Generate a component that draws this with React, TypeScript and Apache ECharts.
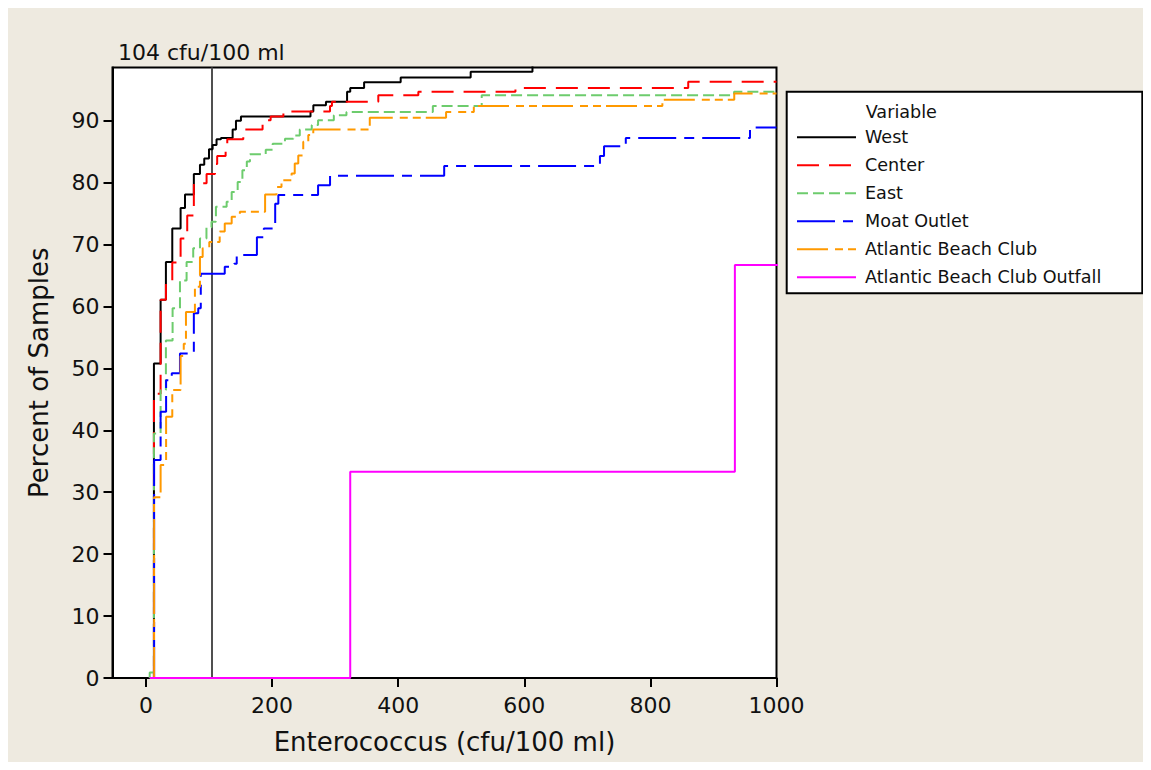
import React, { useEffect, useRef } from "react";
import * as echarts from "echarts";

// ---- data ----
const X_MIN = -53;
const X_MAX = 1000;
const Y_MAX = 98.6;
const X_TICKS = [0, 200, 400, 600, 800, 1000];
const Y_TICKS = [0, 10, 20, 30, 40, 50, 60, 70, 80, 90];
const REF_X = 104;
const REF_LABEL = "104 cfu/100 ml";
const X_TITLE = "Enterococcus (cfu/100 ml)";
const Y_TITLE = "Percent of Samples";
const LEGEND_TITLE = "Variable";

const SERIES_NAMES = [
  "West",
  "Center",
  "East",
  "Moat Outlet",
  "Atlantic Beach Club",
  "Atlantic Beach Club Outfall",
];

const WEST: number[][] = [
  [12.7, 0], [12.7, 50.8], [23.3, 61.1], [31.7, 67.2], [41.8, 72.6], [55, 75.9],
  [62, 78.1], [76, 81.4], [85.7, 82.9], [92.5, 83.9], [100, 85.4], [105.8, 86.1],
  [112, 87.0], [119, 87.2], [137.5, 88.6], [142.8, 90.0], [150.7, 90.7],
  [261, 91.5], [265.5, 92.5], [285.5, 93.05], [319, 94.7], [324, 95.3],
  [346, 96.2], [404, 97.0], [515, 97.9], [613, 100], [1000, 100],
];

const CENTER: number[][] = [
  [12.7, 0], [12.7, 45.9], [23.3, 61.1], [31.7, 64.2], [41.8, 67.1], [55, 71.0],
  [65.5, 74.7], [76, 79.9], [96.2, 81.4], [109.5, 83.0], [113, 84.3],
  [126.4, 86.2], [129, 87.0], [154.4, 88.6], [185, 90.1], [197.8, 90.7],
  [218, 91.5], [291.9, 92.4], [295, 93.05], [368.5, 94.1], [432, 94.7],
  [586, 95.3], [860, 96.3], [1000, 96.3],
];

const EAST: number[][] = [
  [6, 0], [6, 0.9], [12.7, 39.5], [23.3, 46.5], [31.7, 54.5], [42.3, 59.7],
  [54, 64.2], [64.5, 67.2], [75, 69.4], [85.7, 71.0], [96, 72.8], [104, 73.7],
  [111, 76.1], [128, 76.9], [136, 78.5], [145.5, 80.1], [153, 82.0],
  [160, 83.4], [165, 84.6], [190, 85.3], [201, 86.3], [220.5, 87.1],
  [233.7, 87.6], [244, 88.6], [263, 89.3], [273, 90.1], [298, 90.9],
  [318, 91.4], [455, 92.4], [532.5, 94.1], [932.7, 94.7], [1000, 94.7],
];

const MOAT: number[][] = [
  [13, 0], [13, 35.2], [23.3, 43.0], [32, 48.1], [41, 49.2], [54, 52.4],
  [76, 58.9], [83, 59.7], [87, 65.3], [125, 66.4], [140, 66.9], [144, 68.3],
  [176, 71.2], [187, 72.6], [205, 76.6], [210, 78.0], [273, 79.6],
  [292, 81.1], [473, 82.7], [720, 84.3], [726.5, 85.9], [761, 87.2],
  [958, 88.9], [1000, 88.9],
];

const ABC: number[][] = [
  [13, 0], [13, 29.2], [23.3, 34.4], [32, 42.2], [41.8, 46.5], [55, 52.0],
  [60, 54.0], [63.5, 59.1], [77.7, 63.2], [85.7, 68.0], [90, 69.4],
  [100.5, 70.4], [117, 72.1], [125, 73.4], [136, 74.5], [149, 75.3],
  [189, 78.1], [207, 79.3], [215, 80.4], [231, 81.5], [236, 83.1],
  [241.6, 84.4], [249.5, 86.6], [257.5, 87.7], [265.4, 88.6], [355, 90.5],
  [476, 91.4], [520, 92.4], [819, 93.4], [933, 94.4], [1000, 94.4],
];

const OUTFALL: number[][] = [
  [6, 0], [324, 33.3], [934, 66.7], [1100, 100],
];

const SERIES_DATA = [WEST, CENTER, EAST, MOAT, ABC, OUTFALL];
const COLORS = ["#000000", "#FF0000", "#6DCC6D", "#0000FF", "#FF9900", "#FF00FF"];
const DASHES: any[] = [
  "solid",
  [22, 10],
  [11, 5],
  [38, 8, 10, 8],
  [31, 7, 8, 5, 8, 5],
  "solid",
];

const FONT = "DejaVu Sans";

export default function App() {
  const ref = useRef<HTMLDivElement>(null);

  useEffect(() => {
    if (!ref.current) return;
    const chart = echarts.init(ref.current, null, { renderer: "svg" });

    const series: any[] = SERIES_NAMES.map((name, i) => {
      const s: any = {
        name,
        type: "line",
        step: "end",
        data: SERIES_DATA[i],
        showSymbol: false,
        symbol: "none",
        silent: true,
        clip: true,
        z: 3 + i,
        color: COLORS[i],
        lineStyle: { color: COLORS[i], width: 2, type: DASHES[i] },
        itemStyle: { color: COLORS[i] },
        emphasis: { disabled: true },
      };
      if (i === 0) {
        s.markLine = {
          silent: true,
          symbol: ["none", "none"],
          label: { show: false },
          lineStyle: { color: "#505050", width: 2, type: "solid" },
          data: [{ xAxis: REF_X }],
          z: 2,
        };
      }
      return s;
    });

    const option: any = {
      animation: false,
      backgroundColor: "#EEEAE0",
      textStyle: { fontFamily: FONT },
      grid: {
        left: 104.5,
        top: 59.5,
        right: 366.5,
        bottom: 84,
        show: true,
        backgroundColor: "#FFFFFF",
        borderColor: "#000000",
        borderWidth: 2,
        containLabel: false,
      },
      xAxis: {
        type: "value",
        min: X_MIN,
        max: X_MAX,
        name: X_TITLE,
        nameLocation: "middle",
        nameGap: 51,
        nameTextStyle: { fontFamily: FONT, fontSize: 26, color: "#111" },
        axisLine: { show: true, onZero: false, lineStyle: { color: "#000", width: 2 } },
        axisTick: {
          show: true,
          inside: false,
          length: 9,
          customValues: X_TICKS,
          lineStyle: { color: "#000", width: 2 },
        },
        axisLabel: {
          show: true,
          customValues: X_TICKS,
          formatter: (v: number) => String(v),
          margin: 16,
          fontFamily: FONT,
          fontSize: 22,
          color: "#111",
        },
        splitLine: { show: false },
      },
      yAxis: {
        type: "value",
        min: 0,
        max: Y_MAX,
        name: Y_TITLE,
        nameLocation: "middle",
        nameGap: 61,
        nameTextStyle: { fontFamily: FONT, fontSize: 26, color: "#111" },
        axisLine: { show: true, onZero: false, lineStyle: { color: "#000", width: 2 } },
        axisTick: {
          show: true,
          inside: false,
          length: 9,
          customValues: Y_TICKS,
          lineStyle: { color: "#000", width: 2 },
        },
        axisLabel: {
          show: true,
          customValues: Y_TICKS,
          formatter: (v: number) => String(v),
          margin: 13,
          fontFamily: FONT,
          fontSize: 22,
          color: "#111",
        },
        splitLine: { show: false },
      },
      legend: {
        show: true,
        orient: "vertical",
        left: 788,
        top: 119.3,
        padding: 0,
        itemGap: 8,
        itemWidth: 59,
        itemHeight: 14,
        z: 10,
        selectedMode: false,
        data: SERIES_NAMES,
        itemStyle: { opacity: 0 },
        textStyle: {
          fontFamily: FONT,
          fontSize: 17.6,
          color: "#111",
          lineHeight: 20,
          padding: [0, 0, 0, 4],
        },
      },
      graphic: [
        {
          type: "rect",
          z: 1,
          shape: { x: 778.7, y: 83.7, width: 355.6, height: 201.6 },
          style: { fill: "#FFFFFF", stroke: "#000000", lineWidth: 2 },
        },
        {
          type: "text",
          z: 11,
          x: 857.7,
          y: 103.7,
          style: {
            text: LEGEND_TITLE,
            fontFamily: FONT,
            fontSize: 17.6,
            fill: "#111",
            verticalAlign: "middle",
            align: "left",
          },
        },
        {
          type: "text",
          z: 11,
          x: 110,
          y: 44,
          style: {
            text: REF_LABEL,
            fontFamily: FONT,
            fontSize: 22,
            fill: "#111",
            verticalAlign: "middle",
            align: "left",
          },
        },
      ],
      series,
    };

    chart.setOption(option);
    return () => chart.dispose();
  }, []);

  return <div ref={ref} style={{ width: 1135, height: 754 }} />;
}
